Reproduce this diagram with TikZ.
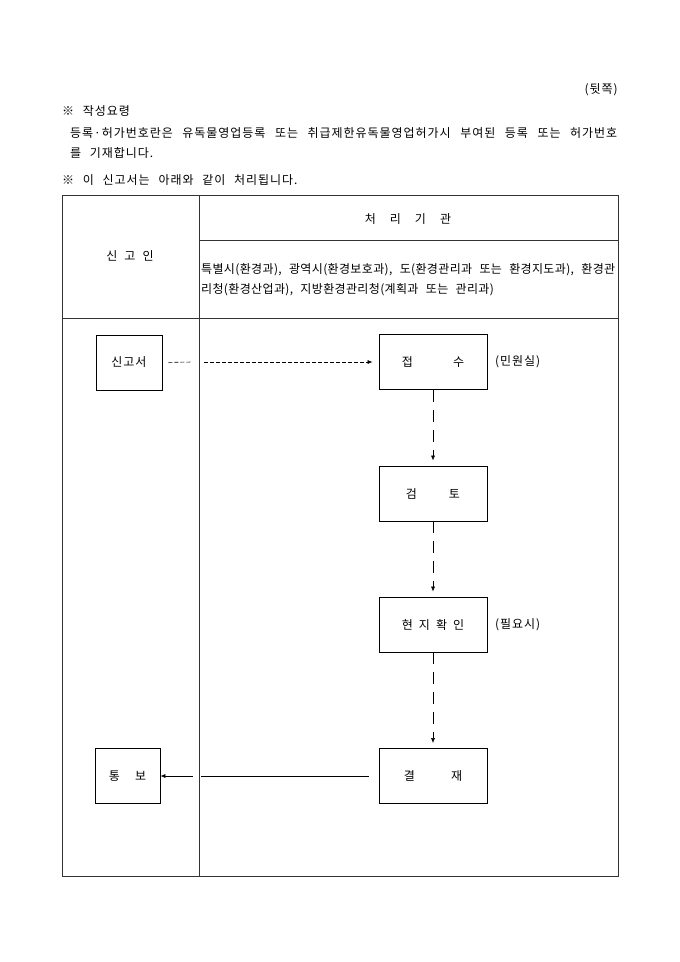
\documentclass[tikz,border=0pt]{standalone}
\usepackage{fontspec}
\setmainfont[WordSpace=2.4, LetterSpace=8]{Noto Sans CJK KR}
\usetikzlibrary{arrows.meta}

\begin{document}
\begin{tikzpicture}[x=1pt,y=-1pt]
\tikzstyle{every node}=[font=\fontsize{12}{14}\selectfont, inner sep=0pt]
\tikzstyle{stepbox}=[draw, line width=0.8pt, minimum width=108pt, minimum height=55pt]
\tikzstyle{tbl}=[line width=0.8pt, black!80]
\tikzstyle{tight}=[font=\fontsize{12}{14}\selectfont\addfontfeature{LetterSpace=3}]
\tikzstyle{tip}=[-{Latex[length=5pt,width=4pt]}]
\useasboundingbox (0,0) rectangle (680,962);

% notes above the table
\node[anchor=east] (side) at (618,90) {(뒷쪽)};
\node[anchor=west] (note1) at (62,111) {※ 작성요령};
\node[anchor=west] (note2) at (70,133) {\makebox[547pt][s]{등록·허가번호란은 유독물영업등록 또는 취급제한유독물영업허가시 부여된 등록 또는 허가번호}};
\node[anchor=west] (note3) at (70,153) {를 기재합니다.};
\node[anchor=west] (note4) at (62,180) {※ 이 신고서는 아래와 같이 처리됩니다.};

% table
\draw[tbl] (62,195) rectangle (618,876);
\draw[tbl] (199,195) -- (199,876);
\draw[tbl] (199,240) -- (618,240);
\draw[tbl] (62,318) -- (618,318);
\node (head) at (408,219) {처\hspace{14pt}리\hspace{14pt}기\hspace{14pt}관};
\node (person) at (130,256) {신\hspace{7pt}고\hspace{7pt}인};
\node[tight, anchor=west] (org1) at (201,270) {\makebox[414pt][s]{특별시(환경과), 광역시(환경보호과), 도(환경관리과 또는 환경지도과), 환경관}};
\node[tight, anchor=west] (org2) at (201,290) {리청(환경산업과), 지방환경관리청(계획과 또는 관리과)};

% flow
\node[stepbox, minimum width=66pt] (sg) at (129,362.5) {신고서};
\node[stepbox] (js) at (433,362) {접\hspace{40pt}수};
\node[stepbox] (gt) at (433,493.5) {검\hspace{32pt}토};
\node[stepbox] (hj) at (433,624.5) {현\hspace{6pt}지\hspace{6pt}확\hspace{6pt}인};
\node[stepbox] (gj) at (433,776) {결\hspace{36pt}재};
\node[stepbox, minimum width=65pt] (tb) at (127.5,776) {통\hspace{15pt}보};
\node[anchor=west] (js note) at (495,362) {(민원실)};
\node[anchor=west] (hj note) at (495,624.5) {(필요시)};

\coordinate (d1) at (192,362);
\coordinate (d2) at (204,362);
\coordinate (d3) at (201,776);
\coordinate (d4) at (193,776);

\draw[line width=0.6pt, dash pattern=on 4pt off 2pt, shorten <=6pt] (sg.east) -- (d1);
\draw[tip, line width=0.6pt, dash pattern=on 4pt off 2pt, shorten >=6pt] (d2) -- (js.west);
\draw[tip, line width=0.6pt, dash pattern=on 12pt off 8pt, shorten >=5pt] (js.south) -- (gt.north);
\draw[tip, line width=0.6pt, dash pattern=on 12pt off 8pt, shorten >=5pt] (gt.south) -- (hj.north);
\draw[tip, line width=0.6pt, dash pattern=on 12pt off 8pt, shorten >=5pt] (hj.south) -- (gj.north);
\draw[line width=0.6pt, shorten <=10pt] (gj.west) -- (d3);
\draw[tip, line width=0.6pt] (d4) -- (tb.east);
\end{tikzpicture}
\end{document}
